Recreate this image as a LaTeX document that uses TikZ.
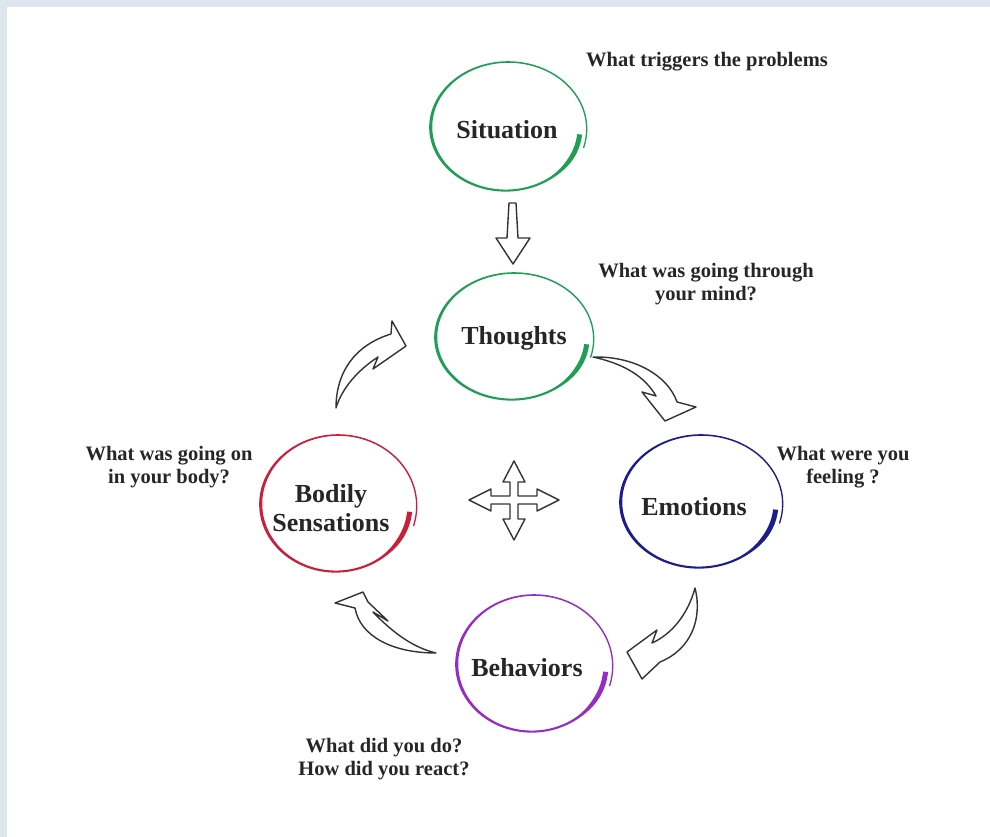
\documentclass[tikz,border=0pt]{standalone}
\usepackage{fontspec}
\setmainfont{Liberation Serif}
\definecolor{framebg}{RGB}{221,229,239}
\definecolor{cgreen}{RGB}{32,158,88}
\definecolor{cblue}{RGB}{28,28,140}
\definecolor{cred}{RGB}{200,32,58}
\definecolor{cpurple}{RGB}{150,45,195}
\newcommand{\cbtring}[5]{%
  \fill[#5] plot[domain=0:371,samples=180,variable=\s]
    ({#1+(#3+dd(\s)+ww(\s)/2)*cos(-6-\s)},{#2-(#4+dd(\s)+ww(\s)/2)*sin(-6-\s)})
    -- plot[domain=371:0,samples=180,variable=\s]
    ({#1+(#3+dd(\s)-ww(\s)/2)*cos(-6-\s)},{#2-(#4+dd(\s)-ww(\s)/2)*sin(-6-\s)})
    -- cycle;}
\begin{document}
\begin{tikzpicture}[x=1pt,y=-1pt,
  declare function={
    ww(\s)=2.2+2.8/(1+exp(min((\s-35)/6,9)))+1.3*exp(0-((\s-170)/50)^2)-0.9*\s/371;
    dd(\s)=-2+7*\s/371;},
  lbl/.style={font=\fontsize{26}{29}\selectfont\bfseries, text=black!85, align=center, inner sep=0pt},
  note/.style={font=\fontsize{20.5}{23.5}\selectfont\bfseries, text=black!85, align=center, inner sep=0pt},
  hollow/.style={fill=white, draw=black!80, line width=1.4pt, line join=round}]
\useasboundingbox (0,0) rectangle (990,837);
\fill[framebg] (0,0) rectangle (990,837);
\fill[white] (7,7) rectangle (990,837);

% rings
\cbtring{507}{128}{75}{63}{cgreen}
\cbtring{513}{338}{76}{62}{cgreen}
\cbtring{700}{503}{78}{65}{cblue}
\cbtring{533}{665}{75}{67}{cpurple}
\cbtring{337}{505}{75}{67}{cred}

% labels
\node[lbl] (sit) at (507,130) {Situation};
\node[lbl] (tho) at (514,338) {Thoughts};
\node[lbl] (emo) at (694,507) {Emotions};
\node[lbl] (beh) at (527,668) {Behaviors};
\node[lbl] (bod) at (331,508) {Bodily\\Sensations};

% notes
\node[note] (sitq) at (707,62) {What triggers the problems};
\node[note] (thoq) at (706,284) {What was going through\\your mind?};
\node[note] (emoq) at (843,467) {What were you\\feeling ?};
\node[note] (bodq) at (169,467) {What was going on\\in your body?};
\node[note] (behq) at (384,759) {What did you do?\\How did you react?};

% straight down arrow
\draw[hollow] (509,203) -- (516,203) -- (518,238) -- (530,238) -- (513,264)
  -- (496,238) -- (507,238) -- cycle;

% four-way arrow
\draw[hollow] (514,461) -- (525,482) -- (518,482) -- (518,496) -- (537,496) -- (537,489)
  -- (559,500) -- (537,511) -- (537,504) -- (518,504) -- (518,519) -- (525,519)
  -- (514,540) -- (503,519) -- (510,519) -- (510,504) -- (491,504) -- (491,511)
  -- (469,500) -- (491,489) -- (491,496) -- (510,496) -- (510,482) -- (503,482) -- cycle;

% curved cycle arrows
\draw[hollow] (336,408) .. controls (336,372) and (355,345) .. (391,334) -- (392,321)
  -- (406,346) -- (373,369) -- (378,357) .. controls (358,370) and (342,388) .. cycle;
\draw[hollow] (593,357) .. controls (635,356) and (668,376) .. (677,402) -- (696,407)
  -- (665,421) -- (642,392) -- (656,396) .. controls (645,377) and (625,364) .. cycle;
\draw[hollow] (695,588) .. controls (703,620) and (690,650) .. (660,662) -- (642,679)
  -- (627,652) -- (657,630) -- (652,643) .. controls (672,634) and (688,614) .. cycle;
\draw[hollow] (436,653) .. controls (392,653) and (360,636) .. (355,608) -- (335,603)
  -- (363,592) -- (368,602) -- (388,621) -- (373,612) .. controls (395,635) and (415,648) .. cycle;
\end{tikzpicture}
\end{document}
